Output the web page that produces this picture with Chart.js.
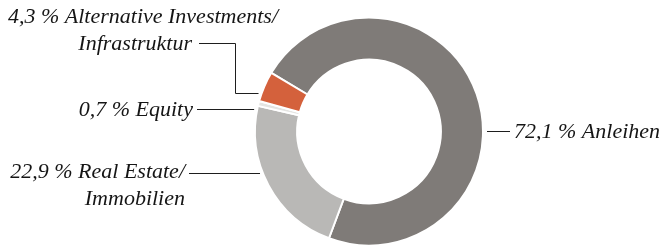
<!DOCTYPE html>
<html lang="de">
<head>
<meta charset="UTF-8">
<title>Asset Allocation</title>
<script src="https://cdn.jsdelivr.net/npm/chart.js"></script>
<style>
    html, body { margin: 0; padding: 0; background: #fff; }
    #wrap { width: 665px; height: 248px; position: relative; }
</style>
</head>
<body>
<div id="wrap"><canvas id="allocChart"></canvas></div>
<script>
    // data
    const categories = [['Anleihen'], ['Real Estate/', 'Immobilien'], ['Equity'], ['Alternative Investments/', 'Infrastruktur']];
    const shares = [72.1, 22.9, 0.7, 4.3];
    const sliceColors = ['#7f7b78', '#b9b8b6', '#e4e4e2', '#d4613c'];

    const fmt = v => v.toFixed(1).replace('.', ',') + ' %';

    // label placement: side, y of leader line, text anchor, first baseline, optional elbow
    const labelSpots = [
        { side: 'right', lineY: 131.5, textX: 514, baseY: 138 },
        { side: 'left', lineY: 173.5, textX: 185, baseY: 178 },
        { side: 'left', lineY: 109.5, textX: 193, baseY: 116 },
        { side: 'left', lineY: 93.5, textX: 192, baseY: 23, firstX: 278, elbow: { x: 235.5, y: 43.5, startX: 199 } }
    ];

    const leaderPlugin = {
        id: 'leaders',
        afterDraw(chart) {
            const ctx = chart.ctx;
            const arc = chart.getDatasetMeta(0).data[0];
            const cx = arc.x, cy = arc.y, r = arc.outerRadius;
            ctx.save();
            ctx.font = 'italic 22px "Liberation Serif", serif';
            ctx.fillStyle = '#151515';
            ctx.strokeStyle = '#1e1e1e';
            ctx.lineWidth = 1;
            const lineH = 27;
            labelSpots.forEach((s, i) => {
                const dy = s.lineY - cy;
                const edge = Math.sqrt(r * r - dy * dy);
                const lines = categories[i].slice();
                lines[0] = fmt(shares[i]) + ' ' + lines[0];
                ctx.beginPath();
                if (s.side === 'right') {
                    ctx.moveTo(cx + edge + 4, s.lineY);
                    ctx.lineTo(s.textX - 4, s.lineY);
                    ctx.stroke();
                    ctx.textAlign = 'left';
                    ctx.fillText(lines[0], s.textX, s.baseY);
                } else if (s.elbow) {
                    ctx.moveTo(s.elbow.startX, s.elbow.y);
                    ctx.lineTo(s.elbow.x, s.elbow.y);
                    ctx.lineTo(s.elbow.x, s.lineY);
                    ctx.lineTo(cx - edge - 3, s.lineY);
                    ctx.stroke();
                    ctx.textAlign = 'right';
                    ctx.fillText(lines[0], s.firstX, s.baseY);
                    ctx.fillText(lines[1], s.textX, s.baseY + lineH);
                } else {
                    ctx.moveTo(s.textX + 4, s.lineY);
                    ctx.lineTo(cx - edge - 3, s.lineY);
                    ctx.stroke();
                    ctx.textAlign = 'right';
                    lines.forEach((t, k) => ctx.fillText(t, s.textX, s.baseY + k * lineH));
                }
            });
            ctx.restore();
        }
    };

    new Chart(document.getElementById('allocChart'), {
        type: 'doughnut',
        data: {
            labels: categories.map(c => c.join(' ')),
            datasets: [{
                data: shares,
                backgroundColor: sliceColors,
                borderColor: '#ffffff',
                borderWidth: 2
            }]
        },
        options: {
            responsive: true,
            maintainAspectRatio: false,
            animation: false,
            rotation: -59,
            cutout: '63%',
            layout: { padding: { left: 254, right: 181, top: 16, bottom: 1 } },
            plugins: {
                legend: { display: false },
                tooltip: { enabled: false }
            }
        },
        plugins: [leaderPlugin]
    });
</script>
</body>
</html>
